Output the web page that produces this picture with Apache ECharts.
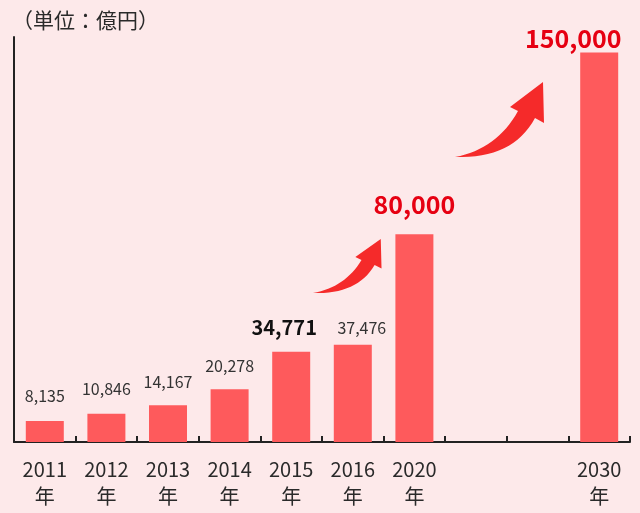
<!DOCTYPE html>
<html><head><meta charset="utf-8">
<script src="https://cdn.jsdelivr.net/npm/echarts@6/dist/echarts.min.js"></script>
<style>html,body{margin:0;padding:0;background:#fde9ea;}#c{width:640px;height:513px;}</style>
</head><body><div id="c"></div>
<script>
var years = ['2011\n年','2012\n年','2013\n年','2014\n年','2015\n年','2016\n年','2020\n年',' ','  ','2030\n年'];
var values = [8135, 10846, 14167, 20278, 34771, 37476, 80000, null, null, 150000];
var unitText = '（単位：億円）';
var FONT = '"Noto Sans CJK JP", "Noto Sans", sans-serif';

var styleNormal = {fontSize: 16, color: '#333', fontFamily: FONT};
var styleBold = {fontSize: 20, fontWeight: 'bold', color: '#111', fontFamily: FONT};
var styleRed = {fontSize: 25, fontWeight: 'bold', color: '#e60012', fontFamily: FONT};
var labelStyles = [
  Object.assign({distance: 17}, styleNormal),
  Object.assign({distance: 17}, styleNormal),
  Object.assign({distance: 15}, styleNormal),
  Object.assign({distance: 15}, styleNormal),
  Object.assign({distance: 14, offset: [-7, 0]}, styleBold),
  Object.assign({distance: 9, offset: [9, 0]}, styleNormal),
  Object.assign({distance: 17}, styleRed),
  null, null,
  Object.assign({distance: 2, offset: [-26, 0]}, styleRed)
];

var seriesData = values.map(function (v, i) {
  if (v === null) return '-';
  return {value: v, label: Object.assign({show: true, position: 'top', formatter: function (p) { return p.value.toLocaleString('en-US'); }}, labelStyles[i])};
});

// decorative curved arrow outline (local coordinates, tail at 0,0)
function quad(p0, c, p1, n) {
  var pts = [];
  for (var k = 1; k <= n; k++) {
    var t = k / n, u = 1 - t;
    pts.push([u*u*p0[0] + 2*u*t*c[0] + t*t*p1[0], u*u*p0[1] + 2*u*t*c[1] + t*t*p1[1]]);
  }
  return pts;
}
function arrowPoints(ox, oy, sx, sy) {
  var pts = [[0, 0]];
  pts = pts.concat(quad([0, 0], [42, -8], [63, -46], 16));
  pts.push([55, -50], [88, -75], [89, -34], [80, -39]);
  pts = pts.concat(quad([80, -39], [58, 2], [0, 0], 16));
  return pts.map(function (p) { return [ox + p[0] * sx, oy + p[1] * sy]; });
}

var chart = echarts.init(document.getElementById('c'), null, {renderer: 'canvas'});
chart.setOption({
  backgroundColor: '#fde9ea',
  animation: false,
  grid: {left: 14, right: 10, top: 37, bottom: 71, containLabel: false},
  title: {text: unitText, left: 7, top: 5, textStyle: {fontSize: 21, fontWeight: 'normal', color: '#2a2a2a', fontFamily: FONT}},
  xAxis: {
    type: 'category', data: years,
    axisLine: {show: true, lineStyle: {color: '#222', width: 2}},
    axisTick: {show: true, inside: true, length: 6, lineStyle: {color: '#222', width: 2}},
    axisLabel: {fontSize: 20, lineHeight: 27, color: '#2a2a2a', margin: 14, fontFamily: FONT, interval: 0}
  },
  yAxis: {
    type: 'value', min: 0, max: 156000,
    axisLine: {show: true, lineStyle: {color: '#222', width: 2}},
    axisTick: {show: false}, axisLabel: {show: false}, splitLine: {show: false}
  },
  series: [{
    type: 'bar', data: seriesData, barWidth: 38,
    itemStyle: {color: '#fe5a5c'}
  }],
  graphic: [
    {type: 'polygon', shape: {points: arrowPoints(313, 293, 0.77, 0.72)}, style: {fill: '#f52a2a'}},
    {type: 'polygon', shape: {points: arrowPoints(455, 157, 1, 1)}, style: {fill: '#f52a2a'}}
  ]
});
</script></body></html>
